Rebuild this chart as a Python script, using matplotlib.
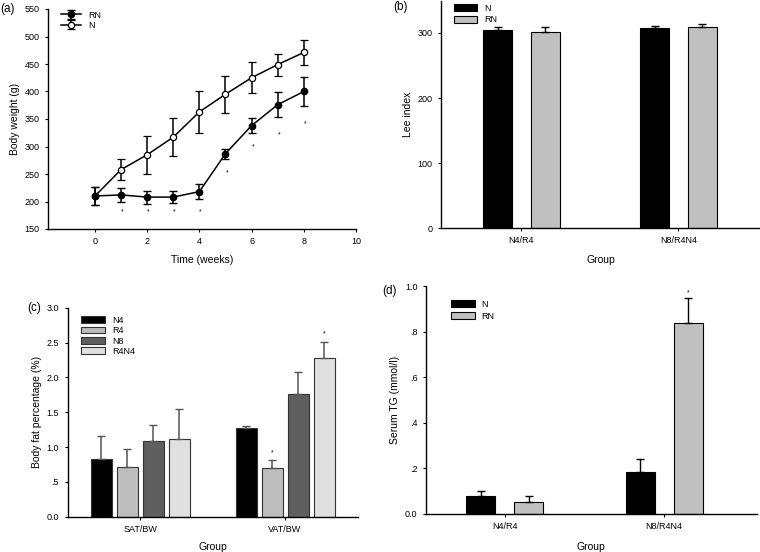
import numpy as np
import matplotlib
matplotlib.use("Agg")
import matplotlib.pyplot as plt

plt.rcParams["font.family"] = ["Liberation Sans", "DejaVu Sans"]
plt.rcParams["axes.linewidth"] = 1.0
plt.rcParams["xtick.major.size"] = 2.5
plt.rcParams["ytick.major.size"] = 2.5
plt.rcParams["xtick.labelsize"] = 6.5
plt.rcParams["ytick.labelsize"] = 6.5

# (a) body weight over time
weeks = [0, 1, 2, 3, 4, 5, 6, 7, 8]
rn_weight = [210, 212, 208, 208, 218, 287, 338, 376, 400]
rn_err = [16, 12, 12, 11, 14, 9, 13, 23, 27]
n_weight = [210, 258, 285, 317, 363, 395, 425, 449, 471]
n_err = [16, 19, 35, 34, 38, 34, 28, 20, 22]
star_weeks = [1, 2, 3, 4, 5, 6, 7, 8]
star_y = [181, 181, 181, 181, 252, 300, 322, 342]

# (b) Lee index
groups_b = ["N4/R4", "N8/R4N4"]
lee_n = [305, 307]
lee_n_err = [4, 4]
lee_rn = [302, 309]
lee_rn_err = [7, 5]

# (c) body fat percentage
groups_c = ["SAT/BW", "VAT/BW"]
fat_labels = ["N4", "R4", "N8", "R4N4"]
fat_vals = [[0.83, 1.27], [0.71, 0.70], [1.09, 1.76], [1.12, 2.28]]
fat_errs = [[0.33, 0.03], [0.26, 0.12], [0.22, 0.31], [0.43, 0.23]]
fat_colors = ["#000000", "#bdbdbd", "#5f5f5f", "#e0e0e0"]

# (d) serum TG
groups_d = ["N4/R4", "N8/R4N4"]
tg_n = [0.078, 0.183]
tg_n_err = [0.022, 0.057]
tg_rn = [0.053, 0.839]
tg_rn_err = [0.026, 0.11]


def style(ax):
    ax.spines["top"].set_visible(False)
    ax.spines["right"].set_visible(False)


def dot_fmt(v, pos):
    s = f"{v:.1f}"
    return s[1:] if s.startswith("0.") and v != 0 else s


fig = plt.figure(figsize=(7.6, 5.52), dpi=100)

# ---- (a)
ax_a = fig.add_axes([48 / 760, 1 - 229 / 552, 308 / 760, 220 / 552])
style(ax_a)
ax_a.errorbar(weeks, n_weight, yerr=n_err, color="k", lw=1.1, capsize=3.2,
              marker="o", ms=4.5, mfc="white", mec="k", mew=0.9, label="N",
              zorder=3)
ax_a.errorbar(weeks, rn_weight, yerr=rn_err, color="k", lw=1.1, capsize=3.2,
              marker="o", ms=4.5, mfc="k", mec="k", label="RN", zorder=4)
for x, y in zip(star_weeks, star_y):
    ax_a.text(x + 0.05, y, "*", fontsize=5, ha="center", va="center")
ax_a.set_xlim(-1.8, 10)
ax_a.set_ylim(150, 550)
ax_a.set_xticks([0, 2, 4, 6, 8, 10])
ax_a.set_yticks(range(150, 551, 50))
ax_a.set_xlabel("Time (weeks)", fontsize=7.5, labelpad=6)
ax_a.set_ylabel("Body weight (g)", fontsize=7.5, labelpad=3.5)
h, l = ax_a.get_legend_handles_labels()
ax_a.legend(h[::-1], l[::-1], loc="upper left", bbox_to_anchor=(0.016, 1.03),
            frameon=False, fontsize=6.5, handlelength=2.2, labelspacing=0.15)
fig.text(0.5 / 760, 1 - 9 / 552, "(a)", fontsize=8.5, va="center")

# ---- (b)
ax_b = fig.add_axes([441 / 760, 1 - 228 / 552, 319 / 760, 227.5 / 552])
style(ax_b)
xb = np.arange(1, len(groups_b) + 1)
off = 24 / 158
wb = 29 / 158
ax_b.bar(xb - off, lee_n, wb, color="k", edgecolor="k", lw=0.8, label="N")
ax_b.errorbar(xb - off, lee_n, yerr=[[0] * 2, lee_n_err], fmt="none",
              ecolor="k", lw=1, capsize=3)
ax_b.bar(xb + off, lee_rn, wb, color="#c0c0c0", edgecolor="k", lw=0.8,
         label="RN")
ax_b.errorbar(xb + off, lee_rn, yerr=[[0] * 2, lee_rn_err], fmt="none",
              ecolor="k", lw=1, capsize=3)
ax_b.set_xlim(0.487, 2.52)
ax_b.set_ylim(0, 350)
ax_b.set_yticks([0, 100, 200, 300])
ax_b.set_xticks(xb)
ax_b.set_xticklabels(groups_b)
ax_b.set_xlabel("Group", fontsize=7.5, labelpad=7)
ax_b.set_ylabel("Lee index", fontsize=7.5, labelpad=3.5)
ax_b.legend(loc="upper left", bbox_to_anchor=(0.014, 1.022), frameon=False,
            fontsize=6.5, handlelength=2.6, handleheight=0.8, labelspacing=0.3)
fig.text(393 / 760, 1 - 7 / 552, "(b)", fontsize=8.5, va="center")

# ---- (c)
ax_c = fig.add_axes([67.5 / 760, 1 - 516.7 / 552, 290 / 760, 209 / 552])
style(ax_c)
xc = np.arange(1, len(groups_c) + 1)
wc = 21 / 145
offs = np.array([-1.5, -0.5, 0.5, 1.5]) * 26 / 145
for i in range(4):
    ax_c.bar(xc + offs[i], fat_vals[i], wc, color=fat_colors[i],
             edgecolor="#333333", lw=0.8, label=fat_labels[i])
    ax_c.errorbar(xc + offs[i], fat_vals[i], yerr=[[0] * 2, fat_errs[i]],
                  fmt="none", ecolor="#555555", lw=1.1, capsize=3)
ax_c.text(xc[1] + offs[1], 0.92, "*", fontsize=5, ha="center", va="center")
ax_c.text(xc[1] + offs[3], 2.62, "*", fontsize=5, ha="center", va="center")
ax_c.set_xlim(0.5, 2.5)
ax_c.set_ylim(0, 3.0)
ax_c.set_yticks(np.arange(0, 3.01, 0.5))
ax_c.yaxis.set_major_formatter(plt.FuncFormatter(dot_fmt))
ax_c.set_xticks(xc)
ax_c.set_xticklabels(groups_c)
ax_c.set_xlabel("Group", fontsize=7.5, labelpad=6)
ax_c.set_ylabel("Body fat percentage (%)", fontsize=7.5, labelpad=3.5)
ax_c.legend(loc="upper left", bbox_to_anchor=(0.02, 1.0), frameon=False,
            fontsize=6.5, handlelength=2.6, handleheight=0.8, labelspacing=0.15)
fig.text(27 / 760, 1 - 308 / 552, "(c)", fontsize=8.5, va="center")

# ---- (d)
ax_d = fig.add_axes([425.7 / 760, 1 - 513.7 / 552, 331 / 760, 227.7 / 552])
style(ax_d)
xd = np.arange(1, len(groups_d) + 1)
offd = 24 / 159
wd = 29 / 159
ax_d.bar(xd - offd, tg_n, wd, color="k", edgecolor="k", lw=0.8, label="N")
ax_d.errorbar(xd - offd, tg_n, yerr=[[0] * 2, tg_n_err], fmt="none",
              ecolor="k", lw=1, capsize=3)
ax_d.bar(xd + offd, tg_rn, wd, color="#c0c0c0", edgecolor="k", lw=0.8,
         label="RN")
ax_d.errorbar(xd + offd, tg_rn, yerr=[[0] * 2, tg_rn_err], fmt="none",
              ecolor="k", lw=1, capsize=3)
ax_d.text(xd[1] + offd, 0.97, "*", fontsize=5, ha="center", va="center")
ax_d.set_xlim(0.505, 2.58)
ax_d.set_ylim(0, 1.0)
ax_d.set_yticks(np.arange(0, 1.01, 0.2))
ax_d.yaxis.set_major_formatter(plt.FuncFormatter(dot_fmt))
ax_d.set_xticks(xd)
ax_d.set_xticklabels(groups_d)
ax_d.set_xlabel("Group", fontsize=7.5, labelpad=8)
ax_d.set_ylabel("Serum TG (mmol/l)", fontsize=7.5, labelpad=3.5)
ax_d.legend(loc="upper left", bbox_to_anchor=(0.052, 0.975), frameon=False,
            fontsize=6.5, handlelength=2.6, handleheight=0.8, labelspacing=0.3)
fig.text(382 / 760, 1 - 291 / 552, "(d)", fontsize=8.5, va="center")

fig.savefig("out.png", dpi=100)
